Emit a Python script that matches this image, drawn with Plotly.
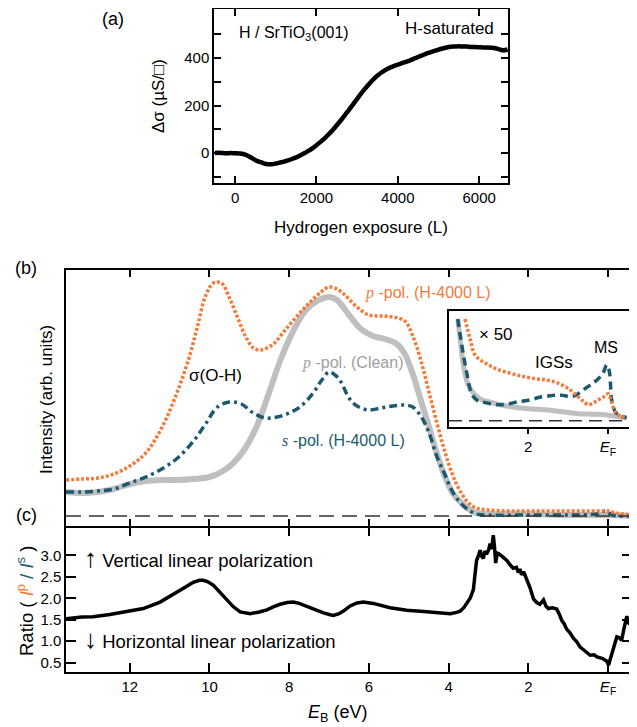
import plotly.graph_objects as go

# The page body has an 8px default margin, so the figure is sized/positioned to fill the window.
OFF = 8
W, H = 637 - OFF, 727 - OFF
FONT = "Liberation Sans, Arial, sans-serif"
ORANGE = "#f27b3a"
BLUE = "#1b5a6e"
GRAY = "#bfbfbf"
GRAY_TXT = "#a0a0a0"

# ---------------- (a) conductance vs exposure ----------------
exposure_L = [-500, -400, -300, -200, -100, 0, 100, 200, 300, 400, 500, 600, 700, 800, 900, 1000,
              1100, 1200, 1300, 1400, 1500, 1600, 1700, 1800, 1900, 2000, 2100, 2200, 2300, 2400,
              2500, 2600, 2700, 2800, 2900, 3000, 3100, 3200, 3300, 3400, 3500, 3600, 3700, 3800,
              3900, 4000, 4100, 4200, 4300, 4400, 4500, 4600, 4700, 4800, 4900, 5000, 5100, 5200,
              5300, 5400, 5500, 5600, 5700, 5800, 5900, 6000, 6100, 6200, 6300, 6400, 6500, 6600, 6700]
delta_sigma = [0, 1, 0, -1, 0, -1, -2, -4, -10, -20, -30, -37, -43, -47, -47, -44,
               -40, -36, -31, -25, -18, -10, -1, 9, 20, 33, 47, 62, 79, 97,
               117, 138, 160, 182, 205, 228, 251, 272, 292, 310, 326, 339, 350, 359,
               366, 372, 378, 384, 390, 397, 404, 411, 418, 424, 430, 435, 440, 444,
               447, 448, 449, 448, 448, 446, 446, 445, 444, 444, 443, 441, 436, 432, 436]
a_xticks = [0, 2000, 4000, 6000]
a_yticks = [-100, 0, 100, 200, 300, 400, 500]
a_yticklabels = ["", "0", "", "200", "", "400", ""]

# ---------------- (b) spectra ----------------
orange_E = [13.6, 13.2, 12.8, 12.4, 12.0, 11.6, 11.2, 10.8, 10.5, 10.3, 10.1, 9.9, 9.7, 9.5, 9.3, 9.1,
            8.9, 8.7, 8.4, 8.1, 7.8, 7.5, 7.2, 7.0, 6.8, 6.6, 6.3, 6.0, 5.7, 5.4, 5.1, 4.9, 4.7, 4.5,
            4.3, 4.1, 3.9, 3.7, 3.5, 3.3, 3.0, 2.5, 2.0, 1.5, 1.0, 0.5, 0.1, 0.0, -0.2, -0.6]
orange_I = [36, 37, 38, 42, 50, 63, 88, 125, 160, 190, 220, 233, 233, 218, 199, 180,
            168, 166, 172, 186, 200, 213, 224, 229, 227, 221, 209, 201, 200, 199, 195, 180, 156, 125,
            94, 65, 41, 24, 13, 8, 6, 5, 5, 5, 5, 5, 5, 5, 3, 1]

gray_E = [13.6, 13.2, 12.8, 12.4, 12.0, 11.6, 11.2, 10.8, 10.4, 10.0, 9.7, 9.4, 9.1, 8.8, 8.5, 8.2,
          7.9, 7.6, 7.3, 7.0, 6.8, 6.5, 6.2, 5.9, 5.6, 5.3, 5.1, 4.9, 4.7, 4.5, 4.3, 4.1, 3.9, 3.7,
          3.5, 3.3, 3.0, 2.0, 1.0, 0.0, -0.6]
gray_I = [24, 23, 24, 27, 32, 35, 36, 36, 37, 39, 44, 53, 68, 91, 124, 158,
          185, 205, 215, 219, 216, 201, 187, 180, 177, 172, 162, 142, 116, 90, 63, 40, 23, 14,
          7, 3, 2, 2, 1, 1, 0]

blue_E = [13.6, 13.2, 12.8, 12.4, 12.0, 11.6, 11.2, 10.8, 10.4, 10.1, 9.8, 9.5, 9.2, 8.9, 8.6, 8.3,
          8.0, 7.7, 7.4, 7.2, 7.0, 6.85, 6.7, 6.5, 6.3, 6.0, 5.7, 5.4, 5.1, 4.9, 4.7, 4.5, 4.3, 4.1,
          3.9, 3.7, 3.5, 3.3, 3.0, 2.0, 1.0, 0.3, 0.05, -0.1, -0.6]
blue_I = [24, 24, 25, 27, 33, 39, 47, 58, 75, 92, 109, 114, 112, 103, 98, 99,
          103, 110, 123, 135, 144, 141, 134, 118, 110, 106, 108, 110, 111, 109, 100, 84, 60, 42,
          24, 13, 6, 2, 1, 1, 1, 2, 5, 1, 0]

# inset (x50)
gray_in_E = [3.77, 3.71, 3.63, 3.51, 3.34, 3.17, 3.00, 2.70, 2.42, 2.0, 1.58, 1.15, 0.75, 0.40, 0.08,
             -0.10, -0.26, -0.47]
gray_in_I = [102, 82, 56, 36, 26, 21, 19, 16, 14, 12, 11, 9, 7, 6.5, 6, 5, 4, 3]
blue_in_E = [3.77, 3.67, 3.55, 3.42, 3.30, 3.17, 2.95, 2.75, 2.50, 2.25, 1.95, 1.66, 1.45, 1.25, 1.08,
             0.91, 0.75, 0.58, 0.40, 0.24, 0.12, 0.03, -0.02, -0.05, -0.09, -0.14, -0.18, -0.30, -0.47]
blue_in_I = [102, 76, 49, 27, 21, 19, 17, 16, 17, 19, 21, 24, 25, 26, 25,
             24, 27, 32, 37, 42, 48, 56, 52, 46, 22, 14, 9, 5, 3]
orange_in_E = [3.59, 3.46, 3.34, 3.17, 3.00, 2.80, 2.58, 2.30, 2.08, 1.80, 1.58, 1.35, 1.16, 0.95,
               0.75, 0.60, 0.49, 0.36, 0.24, 0.10, -0.01, -0.09, -0.18, -0.30, -0.47]
orange_in_I = [102, 82, 66, 60, 56, 52, 49, 46, 44, 42, 41, 39, 36, 31,
               24, 19, 16, 18, 21, 24, 27, 19, 9, 5, 3]

# ---------------- (c) ratio ----------------
ratio_E = [13.6, 13.54, 13.2, 12.92, 12.5, 12.08, 11.66, 11.24, 10.82, 10.6, 10.41, 10.25, 10.16, 10.05,
           9.90, 9.75, 9.57, 9.40, 9.23, 8.98, 8.75, 8.56, 8.40, 8.23, 8.05, 7.90, 7.75, 7.56, 7.35,
           7.14, 6.95, 6.89, 6.75, 6.64, 6.47, 6.30, 6.14, 5.89, 5.47, 5.05, 4.63, 4.22, 3.96, 3.80,
           3.71, 3.62, 3.55, 3.46, 3.38, 3.33, 3.30, 3.25, 3.21, 3.17, 3.13, 3.09, 3.05, 3.00, 2.96,
           2.92, 2.88, 2.85, 2.82, 2.78, 2.75, 2.65, 2.54, 2.46, 2.38, 2.30, 2.25, 2.21, 2.17, 2.12,
           2.04, 1.96, 1.87, 1.79, 1.71, 1.62, 1.56, 1.50, 1.40, 1.29, 1.22, 1.16, 1.10, 1.04, 0.96,
           0.87, 0.78, 0.70, 0.58, 0.45, 0.35, 0.28, 0.15, 0.03, -0.01, -0.05, -0.09, -0.15, -0.22,
           -0.28, -0.34, -0.40, -0.47, -0.52, -0.55]
ratio = [1.52, 1.53, 1.56, 1.57, 1.62, 1.68, 1.76, 1.91, 2.13, 2.26, 2.37, 2.42, 2.42, 2.39,
         2.30, 2.15, 1.95, 1.80, 1.68, 1.64, 1.68, 1.73, 1.80, 1.86, 1.90, 1.91, 1.88, 1.81, 1.73,
         1.66, 1.61, 1.60, 1.64, 1.70, 1.82, 1.89, 1.91, 1.88, 1.78, 1.72, 1.69, 1.67, 1.64, 1.67,
         1.70, 1.78, 1.88, 2.00, 2.20, 2.55, 2.88, 3.00, 3.12, 2.98, 2.93, 3.10, 3.03, 3.12, 3.27,
         3.15, 3.47, 3.20, 2.82, 3.05, 3.04, 2.97, 2.88, 2.78, 2.70, 2.72, 2.60, 2.68, 2.55, 2.62,
         2.45, 2.25, 1.98, 1.90, 1.86, 1.96, 1.82, 1.76, 1.78, 1.75, 1.62, 1.48, 1.40, 1.28, 1.20,
         1.07, 0.98, 0.86, 0.77, 0.67, 0.68, 0.63, 0.60, 0.53, 0.44, 0.58, 0.72, 0.90, 1.10,
         1.08, 1.02, 1.30, 1.58, 1.42, 1.40]

EB_ticks = [12, 10, 8, 6, 4, 2, 0]
EB_ticklabels = ["12", "10", "8", "6", "4", "2", "<i>E</i><sub>F</sub>"]
ratio_ticks = [0.5, 1.0, 1.5, 2.0, 2.5, 3.0]
ratio_ticklabels = ["0.5", "1.0", "1.5", "2.0", "2.5", "3.0"]
inset_ticks = [2, 0]
inset_ticklabels = ["2", "<i>E</i><sub>F</sub>"]


def fx(p):
    return min(1.0, max(0.0, (p - OFF) / W))


def fy(p):
    return min(1.0, max(0.0, 1 - (p - OFF) / H))


fig = go.Figure()

fig.add_trace(go.Scatter(x=exposure_L, y=delta_sigma, mode="lines", line=dict(color="black", width=4.5, shape="spline"),
                         xaxis="x", yaxis="y", hoverinfo="skip"))

dot_orange = dict(color=ORANGE, width=3.5, dash="3px,2px", shape="spline")
dashdot_blue = dict(color=BLUE, width=3.5, dash="8px,4px,3px,4px", shape="spline")
solid_gray = dict(color=GRAY, width=6, shape="spline")

fig.add_trace(go.Scatter(x=gray_E, y=gray_I, mode="lines", line=solid_gray, xaxis="x2", yaxis="y2"))
fig.add_trace(go.Scatter(x=blue_E, y=blue_I, mode="lines", line=dashdot_blue, xaxis="x2", yaxis="y2"))
fig.add_trace(go.Scatter(x=orange_E, y=orange_I, mode="lines", line=dot_orange, xaxis="x2", yaxis="y2"))

fig.add_trace(go.Scatter(x=gray_in_E, y=gray_in_I, mode="lines", line=dict(color=GRAY, width=5, shape="spline"), xaxis="x4", yaxis="y4"))
fig.add_trace(go.Scatter(x=blue_in_E, y=blue_in_I, mode="lines", line=dict(color=BLUE, width=3.5, dash="8px,5px", shape="spline"), xaxis="x4", yaxis="y4"))
fig.add_trace(go.Scatter(x=orange_in_E, y=orange_in_I, mode="lines", line=dict(color=ORANGE, width=3.5, dash="3px,2px", shape="spline"), xaxis="x4", yaxis="y4"))

fig.add_trace(go.Scatter(x=ratio_E, y=ratio, mode="lines", line=dict(color="black", width=3.5), xaxis="x3", yaxis="y3"))

axis_common = dict(showline=True, linecolor="black", linewidth=1.5, showgrid=False, zeroline=False,
                   tickcolor="black", tickwidth=1.5, tickfont=dict(family=FONT, size=15, color="black"))

fig.update_layout(
    width=W, height=H, margin=dict(l=0, r=0, t=0, b=0),
    paper_bgcolor="white", plot_bgcolor="white", showlegend=False,
    font=dict(family=FONT, size=16, color="black"),
    xaxis=dict(**axis_common, domain=[fx(214), fx(508)], range=[-520, 6710], anchor="y",
               tickvals=a_xticks, ticks="inside", ticklen=7, mirror="ticks"),
    yaxis=dict(**axis_common, domain=[fy(183), fy(9)], range=[-126, 606], anchor="x",
               tickvals=a_yticks, ticktext=a_yticklabels, ticks="inside", ticklen=7, mirror="ticks"),
    xaxis2=dict(**axis_common, domain=[fx(66), fx(632)], range=[13.6, -0.6], anchor="y2",
                tickvals=EB_ticks, showticklabels=False, ticks="inside", ticklen=7, mirror="ticks"),
    yaxis2=dict(**axis_common, domain=[fy(526), fy(270)], range=[-10, 246], anchor="x2",
                showticklabels=False, ticks="", mirror=True),
    xaxis3=dict(**axis_common, domain=[fx(66), fx(632)], range=[13.6, -0.6], anchor="y3",
                tickvals=EB_ticks, ticktext=EB_ticklabels, ticks="inside", ticklen=9, mirror="ticks"),
    yaxis3=dict(**axis_common, domain=[fy(672), fy(527.5)], range=[0.28, 3.65], anchor="x3",
                tickvals=ratio_ticks, ticktext=ratio_ticklabels, ticks="inside", ticklen=10, mirror="ticks"),
    xaxis4=dict(**axis_common, domain=[fx(449), fx(629)], range=[3.99, -0.53], anchor="y4",
                tickvals=inset_ticks, ticktext=inset_ticklabels, ticks="outside", ticklen=6, mirror=True),
    yaxis4=dict(**axis_common, domain=[fy(426.7), fy(311)], range=[-6, 110], anchor="x4",
                showticklabels=False, ticks="", mirror=True),
)

# dashed baselines
fig.add_shape(type="line", xref="x2 domain", yref="y2", x0=0, x1=1, y0=0, y1=0,
              line=dict(color="#333333", width=1.5, dash="15px,8px"))
fig.add_shape(type="line", xref="x4 domain", yref="y4", x0=0, x1=1, y0=0, y1=0,
              line=dict(color="#333333", width=1.5, dash="13px,7px"))


def ann(text, x, y, size=16, color="black", xanchor="center", yanchor="middle", angle=0):
    fig.add_annotation(text=text, x=fx(x), y=fy(y), xref="paper", yref="paper", showarrow=False,
                       xanchor=xanchor, yanchor=yanchor, textangle=angle,
                       font=dict(family=FONT, size=size, color=color))


SERIF = "font-family:'Liberation Serif',serif"
ARROW = "font-size:26px"
ann("(a)", 113, 19, size=18)
ann("(b)", 26, 268, size=18)
ann("(c)", 26, 515, size=18)
ann("H / SrTiO<sub>3</sub>(001)", 237, 33, size=16, xanchor="left")
ann("H-saturated", 496, 28, size=17, xanchor="right")
ann("Δσ (µS/□)", 159, 96, size=17, angle=-90)
ann("Hydrogen exposure (L)", 361, 227, size=17)
ann("Intensity (arb. units)", 46, 400, size=17, angle=-90)
ann("σ(O-H)", 216, 375, size=17)
ann(f"<span style=\"{SERIF}\"><i>p</i></span> -pol. (H-4000 L)", 363, 293, size=16, color=ORANGE, xanchor="left")
ann(f"<span style=\"{SERIF}\"><i>p</i></span> -pol. (Clean)", 300, 363, size=16, color=GRAY_TXT, xanchor="left")
ann(f"<span style=\"{SERIF}\"><i>s</i></span> -pol. (H-4000 L)", 280, 440, size=16, color=BLUE, xanchor="left")
ann("× 50", 477, 335, size=17, xanchor="left")
ann("IGSs", 533, 363, size=17, xanchor="left")
ann("MS", 592, 347, size=16, xanchor="left")
ann(f"<span style=\"{ARROW}\">↑</span> Vertical linear polarization", 82, 558, size=18.5, xanchor="left")
ann(f"<span style=\"{ARROW}\">↓</span> Horizontal linear polarization", 82, 639, size=18.5, xanchor="left")
ann(f"Ratio ( <span style=\"color:{ORANGE}\"><i>I</i><sup>p</sup></span> <span style=\"color:{BLUE}\">/ <i>I</i><sup>s</sup></span> )",
    25, 601, size=18.5, angle=-90)
ann("<i>E</i><sub>B</sub> (eV)", 337, 713, size=18)

fig.write_html("out.html")
